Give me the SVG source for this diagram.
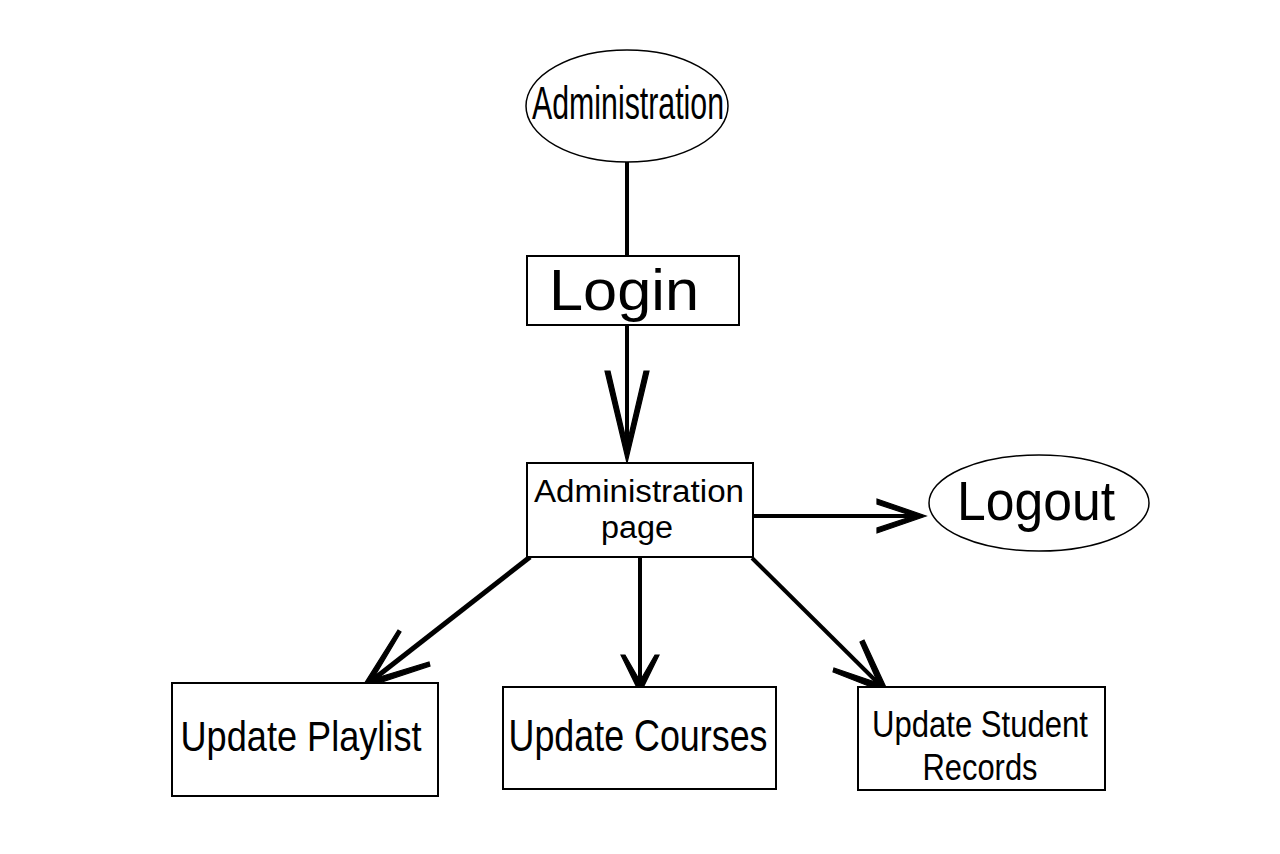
<svg xmlns="http://www.w3.org/2000/svg" width="1280" height="854" viewBox="0 0 1280 854">
<style>
.box{fill:#fff;stroke:#000;stroke-width:2}
.ell{fill:#fff;stroke:#000;stroke-width:1.5}
.t{font-family:"Liberation Sans",Arial,sans-serif;fill:#000;text-anchor:middle}
.ln{fill:none;stroke:#000;stroke-width:4}
.ah{fill:#000;stroke:#000;stroke-width:1.2;stroke-linejoin:miter}
</style>
<rect width="1280" height="854" fill="#fff"/>
<g id="connectors">
<line class="ln" x1="627" y1="162" x2="627" y2="257"/>
<line class="ln" x1="627" y1="325" x2="627" y2="448"/>
<polygon class="ah" points="605,371 627,463 649,371 644,371 627,444 610,371"/>
<line class="ln" x1="750" y1="516" x2="916" y2="516"/>
<polygon class="ah" points="877,499 926,516 877,533 877,528 913,516 877,504"/>
<line class="ln" x1="530" y1="557" x2="370" y2="682" style="stroke-width:5"/>
<polygon class="ah" points="398,630 361,689 430,666 429,662 373,679 401,632"/>
<line class="ln" x1="640" y1="557" x2="640" y2="684"/>
<polygon class="ah" points="621,655 640,694 659,655 655,655 640,681 625,655"/>
<line class="ln" x1="752" y1="558" x2="881" y2="686"/>
<polygon class="ah" points="864,640 889,694 833,672 834,668 878,683 860,642"/>
</g>
<g id="administration">
<ellipse class="ell" cx="627" cy="106" rx="101" ry="56"/>
<text class="t" x="628" y="119" font-size="46" textLength="192" lengthAdjust="spacingAndGlyphs">Administration</text>
</g>
<g id="login">
<rect class="box" x="527" y="256" width="212" height="69"/>
<text class="t" x="624" y="310" font-size="58" textLength="150" lengthAdjust="spacingAndGlyphs">Login</text>
</g>
<g id="admin-page">
<rect class="box" x="527" y="463" width="226" height="94"/>
<text class="t" x="639" y="502" font-size="31" textLength="210" lengthAdjust="spacingAndGlyphs">Administration</text>
<text class="t" x="637" y="538" font-size="31" textLength="72" lengthAdjust="spacingAndGlyphs">page</text>
</g>
<g id="logout">
<ellipse class="ell" cx="1039" cy="503" rx="110" ry="48"/>
<text class="t" x="1036" y="520" font-size="55" textLength="158" lengthAdjust="spacingAndGlyphs">Logout</text>
</g>
<g id="update-playlist">
<rect class="box" x="172" y="683" width="266" height="113"/>
<text class="t" x="301" y="751" font-size="43" textLength="241" lengthAdjust="spacingAndGlyphs">Update Playlist</text>
</g>
<g id="update-courses">
<rect class="box" x="503" y="687" width="273" height="102"/>
<text class="t" x="638" y="751" font-size="44" textLength="259" lengthAdjust="spacingAndGlyphs">Update Courses</text>
</g>
<g id="update-student-records">
<rect class="box" x="858" y="687" width="247" height="103"/>
<text class="t" x="980" y="737" font-size="37" textLength="216" lengthAdjust="spacingAndGlyphs">Update Student</text>
<text class="t" x="980" y="780" font-size="37" textLength="115" lengthAdjust="spacingAndGlyphs">Records</text>
</g>
</svg>
